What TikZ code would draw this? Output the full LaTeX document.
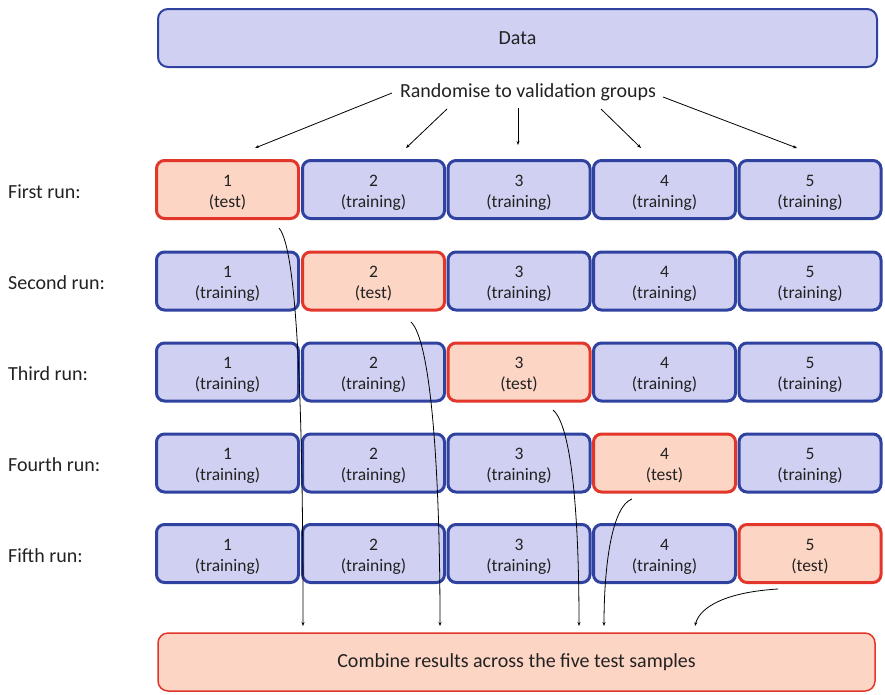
\documentclass[tikz,border=0pt]{standalone}
\usepackage{fontspec}
\setmainfont{Carlito}
\usetikzlibrary{arrows.meta}
\definecolor{lav}{HTML}{D0D1F2}
\definecolor{bblue}{HTML}{2F42A0}
\definecolor{rred}{HTML}{E2362B}
\definecolor{peach}{HTML}{FDD5C4}
\definecolor{txt}{HTML}{222222}
\tikzset{
  cell/.style={rounded corners=8pt, line width=3pt, minimum width=142pt, minimum height=58pt, inner sep=0pt},
  train/.style={cell, draw=bblue, fill=lav},
  testbox/.style={cell, draw=rred, fill=peach},
  celltext/.style={align=center, inner sep=0pt, text=txt, font=\fontsize{17.5}{21}\selectfont},
  bigtext/.style={inner sep=0pt, text=txt, font=\fontsize{20}{24}\selectfont},
  runlabel/.style={bigtext, anchor=west},
  conn/.style={line width=0.8pt, -{Stealth[length=4pt,width=3pt]}},
}
\begin{document}
\begin{tikzpicture}[x=1pt,y=-1pt]
\useasboundingbox (0,0) rectangle (885,694);
% Data box
\node[rounded corners=10pt, line width=2pt, draw=bblue, fill=lav, minimum width=719pt, minimum height=58pt,
  bigtext] (data) at (517.5,38) {Data};
\node[bigtext] (rand) at (528,92) {Randomise to validation groups};
% bottom box
\node[rounded corners=10pt, line width=1.5pt, draw=rred, fill=peach, minimum width=717pt, minimum height=58pt,
  bigtext] (comb) at (516.5,662) {Combine results across the five test samples};

% rows
\foreach \r/\y/\lab in {1/189.5/First run:, 2/281/Second run:, 3/372/Third run:, 4/463/Fourth run:, 5/553.5/Fifth run:}{
  \node[runlabel] (lab\r) at (8,\y+2) {\lab};
  \foreach \c/\x in {1/227.5, 2/373.5, 3/519, 4/664.5, 5/810}{
    \ifnum\r=\c
      \node[testbox] (r\r c\c) at (\x,\y) {};
      \node[celltext] (t\r c\c) at (\x,\y+3) {\c\\(test)};
    \else
      \node[train] (r\r c\c) at (\x,\y) {};
      \node[celltext] (t\r c\c) at (\x,\y+3) {\c\\(training)};
    \fi
  }
}

% randomise arrows
\coordinate (a1s) at (392,93);  \coordinate (a1e) at (255,148);
\coordinate (a2s) at (447,109); \coordinate (a2e) at (406,148);
\coordinate (a3s) at (518,108); \coordinate (a3e) at (518,145);
\coordinate (a4s) at (601,109); \coordinate (a4e) at (641,148);
\coordinate (a5s) at (663,97);  \coordinate (a5e) at (797,148);
\foreach \i in {1,...,5}{ \draw[conn] (a\i s) -- (a\i e); }

% curves to combine box
\coordinate (s1) at (279,228); \coordinate (e1) at (303,626);
\coordinate (s2) at (411,322); \coordinate (e2) at (440,626);
\coordinate (s3) at (553,410); \coordinate (e3) at (579,626);
\coordinate (s4) at (632,499); \coordinate (e4) at (604,626);
\coordinate (s5) at (778,589); \coordinate (e5) at (695,626);
\draw[conn] (s1) .. controls (298,250) and (303,420) .. (e1);
\draw[conn] (s2) .. controls (430,340) and (440,460) .. (e2);
\draw[conn] (s3) .. controls (571,425) and (579,510) .. (e3);
\draw[conn] (s4) .. controls (612,506) and (604,565) .. (e4);
\draw[conn] (s5) .. controls (728,592) and (700,606) .. (e5);
\end{tikzpicture}
\end{document}
